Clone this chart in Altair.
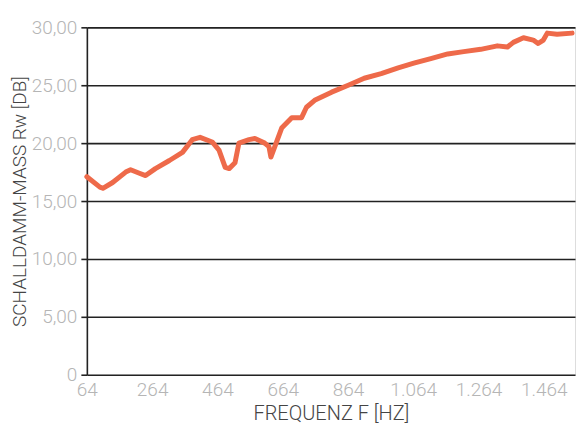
import altair as alt
import pandas as pd

# Frequency (Hz) and sound reduction index Rw (dB)
freq = [64, 104, 113, 143, 183, 198, 225, 244, 274, 317, 357, 387, 411, 448,
        469, 488, 500, 518, 530, 561, 579, 609, 622, 628, 640, 661, 692, 722,
        737, 762, 814, 865, 914, 966, 1018, 1066, 1118, 1170, 1219, 1271,
        1322, 1353, 1371, 1402, 1432, 1447, 1463, 1475, 1505, 1551]
rw = [17.1, 16.2, 16.1, 16.6, 17.5, 17.7, 17.4, 17.2, 17.8, 18.5, 19.2, 20.3,
      20.5, 20.1, 19.4, 17.9, 17.8, 18.3, 20.0, 20.3, 20.4, 20.0, 19.7, 18.8,
      19.7, 21.3, 22.2, 22.2, 23.1, 23.7, 24.4, 25.0, 25.6, 26.0, 26.5, 26.9,
      27.3, 27.7, 27.9, 28.1, 28.4, 28.3, 28.7, 29.1, 28.9, 28.6, 28.9, 29.5,
      29.4, 29.5]
x_ticks = [64, 264, 464, 664, 864, 1064, 1264, 1464]
y_ticks = [0, 5, 10, 15, 20, 25, 30]

df = pd.DataFrame({"f": freq, "rw": rw})

FONT = "Roboto"

chart = alt.Chart(df).mark_line(
    color="#EE6A4A", strokeWidth=5, strokeJoin="round", strokeCap="round"
).encode(
    x=alt.X("f:Q",
            scale=alt.Scale(domain=[64, 1560], nice=False, zero=False),
            axis=alt.Axis(values=x_ticks, title="FREQUENZ F [HZ]",
                          labelExpr="replace(format(datum.value, ','), ',', '.')",
                          grid=False, ticks=False, domain=False, labelFlush=False,
                          labelFont=FONT, labelFontSize=19, labelFontWeight=300,
                          labelColor="#b5b5b5", labelPadding=6,
                          titleFont=FONT, titleFontSize=20, titleFontWeight=300,
                          titleColor="#444444", titlePadding=4)),
    y=alt.Y("rw:Q",
            scale=alt.Scale(domain=[0, 30], nice=False),
            axis=alt.Axis(values=y_ticks, title="SCHALLDAMM-MASS Rw [DB]",
                          labelExpr="datum.value == 0 ? '0' : replace(format(datum.value, '.2f'), '.', ',')",
                          grid=True, gridColor="#222222", gridWidth=1.6,
                          ticks=True, tickSize=6, tickColor="#222222", tickWidth=1.6,
                          domain=True, domainColor="#222222", domainWidth=1.6,
                          labelFont=FONT, labelFontSize=19, labelFontWeight=300,
                          labelColor="#b5b5b5", labelPadding=4,
                          titleFont=FONT, titleFontSize=19, titleFontWeight=300,
                          titleColor="#444444", titlePadding=2)),
).properties(
    width=489, height=348,
    padding={"left": 2, "top": 10, "right": 5, "bottom": 0},
).configure_view(stroke=None).configure(background="white")

chart.save("out.html", embed_options={"renderer": "svg", "actions": False})
